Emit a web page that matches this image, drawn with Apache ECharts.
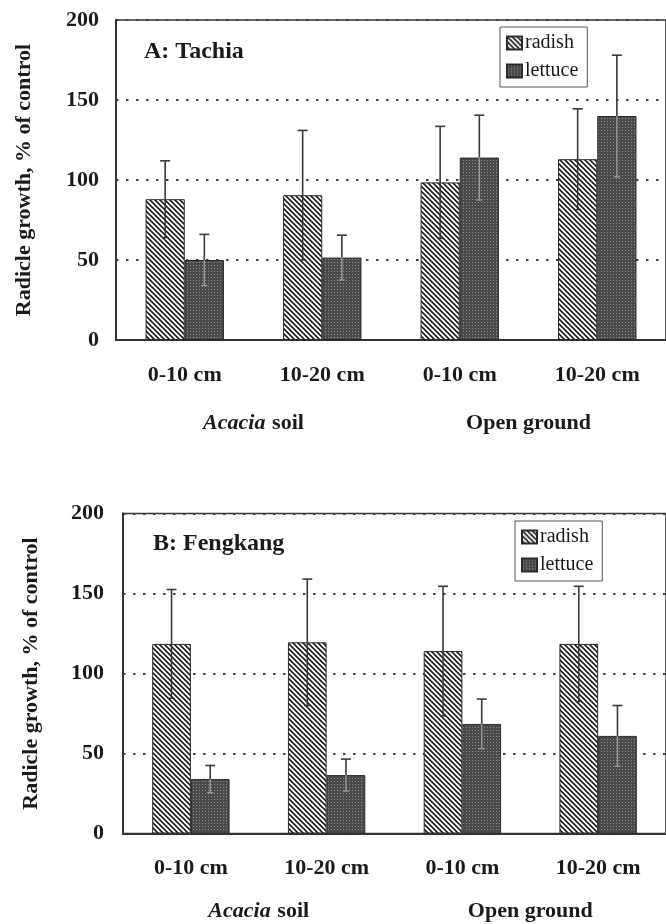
<!DOCTYPE html>
<html>
<head>
<meta charset="utf-8">
<script src="https://cdn.jsdelivr.net/npm/echarts@6/dist/echarts.min.js"></script>
<style>
  html, body { margin: 0; padding: 0; background: #fff; }
  #chart { width: 666px; height: 924px; }
</style>
</head>
<body>
<div id="chart"></div>
<script>
  // categories and tick labels
  const categories = ['0-10 cm', '10-20 cm', '0-10 cm', '10-20 cm']
  const groupLabels = ['Acacia soil', 'Open ground']
  const yTicks = [0, 50, 100, 150, 200]
  const panelTitles = ['A: Tachia', 'B: Fengkang']

  // A: Tachia (mean, +/- error)
  const tachiaRadish = [88, 90.5, 98.5, 113]
  const tachiaRadishErr = [24, 40.5, 35, 31.5]
  const tachiaLettuce = [50, 51.5, 114, 140]
  const tachiaLettuceErr = [16, 14, 26.5, 38]

  // B: Fengkang
  const fengRadish = [118.5, 119.5, 114, 118.5]
  const fengRadishErr = [34, 39.5, 40.5, 36]
  const fengLettuce = [34, 36.5, 68.5, 61]
  const fengLettuceErr = [8.5, 10, 15.5, 19]

  const FONT = "'Liberation Serif', 'Times New Roman', serif"
  const INK = '#1a1a1a'

  // 斜线填充 (radish)
  function hatchPattern() {
    let s = 5
    let c = document.createElement('canvas')
    c.width = s
    c.height = s
    let ctx = c.getContext('2d')
    ctx.fillStyle = '#fff'
    ctx.fillRect(0, 0, s, s)
    ctx.strokeStyle = '#1e1e1e'
    ctx.lineWidth = 1.6
    ctx.beginPath()
    ctx.moveTo(-1, -1); ctx.lineTo(s + 1, s + 1)
    ctx.moveTo(-1, s - 1); ctx.lineTo(1, s + 1)
    ctx.moveTo(s - 1, -1); ctx.lineTo(s + 1, 1)
    ctx.stroke()
    return { image: c, repeat: 'repeat' }
  }

  // 点状填充 (lettuce)
  function stipplePattern() {
    let c = document.createElement('canvas')
    c.width = 3
    c.height = 3
    let ctx = c.getContext('2d')
    ctx.fillStyle = '#4a4a4a'
    ctx.fillRect(0, 0, 3, 3)
    ctx.fillStyle = '#909090'
    ctx.fillRect(1, 1, 1, 1)
    return { image: c, repeat: 'repeat' }
  }

  const radishFill = hatchPattern()
  const lettuceFill = stipplePattern()

  function errData(mean, err) {
    return mean.map((v, i) => [i, v, v - err[i], v + err[i]])
  }

  function errorBarItem(shift, innerColor) {
    return function(params, api) {
      let i = api.value(0)
      let x = api.coord([i, 0])[0] + api.size([1, 0])[0] * shift
      let yMean = api.coord([i, api.value(1)])[1]
      let yLow = api.coord([i, api.value(2)])[1]
      let yHigh = api.coord([i, api.value(3)])[1]
      let outer = { stroke: '#3a3a3a', lineWidth: 1.6 }
      let inner = { stroke: innerColor, lineWidth: 1.4 }
      return {
        type: 'group',
        children: [
          { type: 'line', shape: { x1: x, y1: yHigh, x2: x, y2: yMean }, style: outer },
          { type: 'line', shape: { x1: x - 5, y1: yHigh, x2: x + 5, y2: yHigh }, style: outer },
          { type: 'line', shape: { x1: x, y1: yMean, x2: x, y2: yLow }, style: inner },
          { type: 'line', shape: { x1: x - 3, y1: yLow, x2: x + 3, y2: yLow }, style: inner }
        ]
      }
    }
  }

  const grids = [
    { left: 116, top: 20, width: 554, height: 320 },
    { left: 123, top: 513.5, width: 552, height: 320 }
  ]

  function barSeries(name, data, fill, axis) {
    return {
      name,
      type: 'bar',
      xAxisIndex: axis * 2,
      yAxisIndex: axis,
      data,
      barWidth: '28.5%',
      barGap: 0,
      itemStyle: { color: fill, borderColor: '#2a2a2a', borderWidth: 1 },
      z: 2
    }
  }

  function errSeries(name, data, shift, innerColor, axis) {
    return {
      name,
      type: 'custom',
      xAxisIndex: axis * 2,
      yAxisIndex: axis,
      data,
      encode: { x: 0, y: [1, 2, 3] },
      renderItem: errorBarItem(shift, innerColor),
      z: 5,
      silent: true
    }
  }

  const xAxes = []
  const yAxes = []
  grids.forEach((g, k) => {
    xAxes.push({
      type: 'category',
      gridIndex: k,
      data: categories,
      axisLine: { lineStyle: { color: '#333', width: 2 } },
      axisTick: { show: false },
      axisLabel: { margin: 24, color: INK, fontFamily: FONT, fontSize: 22, fontWeight: 'bold' }
    })
    xAxes.push({
      type: 'category',
      gridIndex: k,
      position: 'bottom',
      data: groupLabels,
      axisLine: { show: false },
      axisTick: { show: false },
      splitLine: { show: false },
      axisLabel: {
        margin: k === 0 ? 72 : 67,
        color: INK,
        formatter: v => v === 'Acacia soil' ? '{i|Acacia}  {b|soil}' : '{b|' + v + '}',
        rich: {
          i: { fontFamily: FONT, fontSize: 22, fontStyle: 'italic', fontWeight: 'bold', color: INK },
          b: { fontFamily: FONT, fontSize: 22, fontWeight: 'bold', color: INK }
        }
      }
    })
    yAxes.push({
      type: 'value',
      gridIndex: k,
      min: yTicks[0],
      max: yTicks[yTicks.length - 1],
      interval: 50,
      name: 'Radicle growth, % of control',
      nameLocation: 'middle',
      nameGap: 81,
      nameTextStyle: { fontFamily: FONT, fontSize: 22, fontWeight: 'bold', color: INK },
      axisLine: { show: true, lineStyle: { color: '#333', width: 2 } },
      axisTick: { show: false },
      axisLabel: { margin: k === 0 ? 17 : 19, color: INK, fontFamily: FONT, fontSize: 22, fontWeight: 'bold' },
      splitLine: { show: true, lineStyle: { color: '#444', width: 1.8, type: [2.5, 7.5] } }
    })
  })

  const chart = echarts.init(document.getElementById('chart'))
  chart.setOption({
    animation: false,
    backgroundColor: '#fff',
    grid: grids.map(g => Object.assign({ show: true, borderColor: '#333', borderWidth: 1.5, containLabel: false }, g)),
    title: [
      { text: panelTitles[0], left: 144, top: 40, padding: 0, textStyle: { fontFamily: FONT, fontSize: 24, fontWeight: 'bold', color: INK } },
      { text: panelTitles[1], left: 153, top: 532, padding: 0, textStyle: { fontFamily: FONT, fontSize: 24, fontWeight: 'bold', color: INK } }
    ],
    legend: [
      { left: 500, top: 27 },
      { left: 515, top: 521 }
    ].map(p => Object.assign({
      data: ['radish', 'lettuce'],
      orient: 'vertical',
      icon: 'rect',
      itemWidth: 15,
      itemHeight: 13,
      itemGap: 8,
      padding: [6, 9, 6, 6],
      borderColor: '#555',
      borderWidth: 1,
      backgroundColor: '#fff',
      selectedMode: false,
      textStyle: { fontFamily: FONT, fontSize: 20, color: INK, padding: [0, 0, 0, -2] }
    }, p)),
    xAxis: xAxes,
    yAxis: yAxes,
    series: [
      barSeries('radish', tachiaRadish, radishFill, 0),
      barSeries('lettuce', tachiaLettuce, lettuceFill, 0),
      errSeries('radish-err', errData(tachiaRadish, tachiaRadishErr), -0.1425, '#333', 0),
      errSeries('lettuce-err', errData(tachiaLettuce, tachiaLettuceErr), 0.1425, '#9a9a9a', 0),
      barSeries('radish', fengRadish, radishFill, 1),
      barSeries('lettuce', fengLettuce, lettuceFill, 1),
      errSeries('radish-err', errData(fengRadish, fengRadishErr), -0.1425, '#333', 1),
      errSeries('lettuce-err', errData(fengLettuce, fengLettuceErr), 0.1425, '#9a9a9a', 1)
    ]
  })
</script>
</body>
</html>
